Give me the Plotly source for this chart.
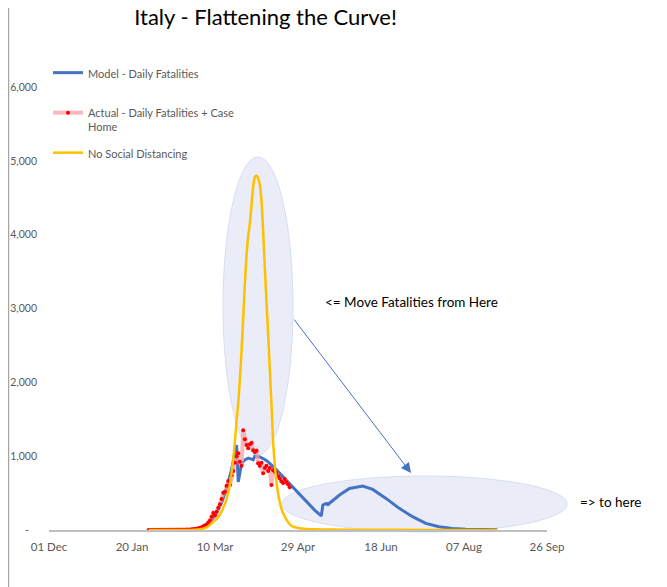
import pandas as pd
import plotly.graph_objects as go

# ---------------- data ----------------
actual_start = "2020-01-30"
actual_values = [0]*22 + [1, 2, 3, 5,
    7, 10, 12, 17, 21, 29, 34, 52, 60, 75, 100, 130, 180, 230, 200, 247, 300, 350, 420, 504,
    518, 600, 662, 608, 743, 800, 910, 1000, 1040, 923, 870, 1350, 1230, 1150, 1108, 1162,
    1180, 1080, 1058, 1075, 905, 870, 910, 770, 840, 870, 800, 840, 608, 810, 790, 780, 730,
    700, 660, 635, 690, 650, 620, 580]

model_dates = ["2020-01-30", "2020-02-14", "2020-02-24", "2020-02-29", "2020-03-05", "2020-03-10",
               "2020-03-14", "2020-03-17", "2020-03-20", "2020-03-22", "2020-03-23", "2020-03-24",
               "2020-03-25", "2020-03-26", "2020-03-28", "2020-03-30", "2020-04-01", "2020-04-02",
               "2020-04-03", "2020-04-06", "2020-04-09", "2020-04-11", "2020-04-15", "2020-04-19",
               "2020-04-25", "2020-04-29", "2020-05-04", "2020-05-09", "2020-05-13", "2020-05-14",
               "2020-05-16", "2020-05-17", "2020-05-20", "2020-05-24", "2020-05-30", "2020-06-07",
               "2020-06-13", "2020-06-21", "2020-06-29", "2020-07-07", "2020-07-15", "2020-07-23",
               "2020-07-31", "2020-08-08", "2020-08-27"]
model_values = [0, 2, 10, 25, 70, 190,
                370, 560, 820, 1050, 1150, 650,
                800, 900, 950, 975, 960, 950,
                1000, 990, 955, 923, 838, 743,
                590, 500, 383, 270, 190, 338,
                360, 345, 400, 473, 563, 595,
                550, 428, 293, 180, 90, 45,
                22, 10, 5]

nosd_dates = ["2020-01-30", "2020-02-19", "2020-02-27", "2020-03-01", "2020-03-05", "2020-03-08",
              "2020-03-11", "2020-03-13", "2020-03-15", "2020-03-17", "2020-03-19", "2020-03-20",
              "2020-03-21", "2020-03-22", "2020-03-23", "2020-03-24", "2020-03-25", "2020-03-26",
              "2020-03-27", "2020-03-28", "2020-03-29", "2020-03-30", "2020-03-31", "2020-04-01",
              "2020-04-02", "2020-04-03", "2020-04-04", "2020-04-05", "2020-04-06", "2020-04-07",
              "2020-04-08", "2020-04-09", "2020-04-10", "2020-04-11", "2020-04-12", "2020-04-13",
              "2020-04-14", "2020-04-15", "2020-04-16", "2020-04-17", "2020-04-18", "2020-04-19",
              "2020-04-20", "2020-04-22", "2020-04-24", "2020-04-26", "2020-04-29", "2020-05-04",
              "2020-05-09", "2020-05-19", "2020-06-08", "2020-07-18", "2020-08-27"]
nosd_values = [0, 1, 5, 10, 35, 90,
               150, 210, 300, 420, 620, 780,
               970, 1200, 1480, 1716, 2050, 2430,
               2880, 3340, 3720, 3980, 4150, 4400,
               4650, 4780, 4800, 4760, 4680, 4460,
               4050, 3560, 3100, 2660, 2180, 1716,
               1200, 880, 660, 500, 380, 290,
               230, 140, 80, 45, 28, 15,
               10, 6, 3, 1, 0]

y_tickvals = [0, 1000, 2000, 3000, 4000, 5000, 6000]
y_ticktext = ["-\u00a0\u00a0\u00a0", "1,000", "2,000", "3,000", "4,000", "5,000", "6,000"]
x_tickvals = ["2019-12-01", "2020-01-20", "2020-03-10", "2020-04-29", "2020-06-18", "2020-08-07", "2020-09-26"]
x_ticktext = ["01 Dec", "20 Jan", "10 Mar", "29 Apr", "18 Jun", "07 Aug", "26 Sep"]

actual_dates = pd.date_range(actual_start, periods=len(actual_values), freq="D")

FONT = "Lato"
GREY = "#595959"

# page is offset by the 8px body margin: screenshot px -> figure px = px - 8
OFF = 8
L, T, W, H = 49 - OFF, 87 - OFF, 498, 443

fig = go.Figure()

fig.add_trace(go.Scatter(
    x=model_dates, y=model_values, name="Model - Daily Fatalities",
    mode="lines", line=dict(color="#4472C4", width=3), legend="legend"))

fig.add_trace(go.Scatter(
    x=actual_dates, y=actual_values, name="Actual - Daily Fatalities + Case<br>Home",
    mode="lines+markers", line=dict(color="rgba(245,160,165,0.75)", width=4),
    marker=dict(color="#FF0000", size=4), legend="legend2"))

fig.add_trace(go.Scatter(
    x=nosd_dates, y=nosd_values, name="No Social Distancing",
    mode="lines", line=dict(color="#FFC000", width=2.5, shape="spline", smoothing=0.6),
    legend="legend3"))

def px_x(p):
    return (p - 49) / 498.0

def px_y(p):
    return (530 - p) / 443.0

ell_fill = "rgba(222,228,244,0.65)"
ell_line = "rgba(212,220,240,0.9)"
shapes = [
    dict(type="circle", xref="paper", yref="paper", layer="below",
         x0=px_x(223), x1=px_x(293), y0=px_y(455), y1=px_y(157),
         fillcolor=ell_fill, line=dict(color=ell_line, width=1)),
    dict(type="circle", xref="paper", yref="paper", layer="below",
         x0=px_x(282), x1=px_x(567), y0=px_y(532), y1=px_y(476),
         fillcolor=ell_fill, line=dict(color=ell_line, width=1)),
    dict(type="line", xref="paper", yref="paper",
         x0=px_x(OFF + 0.5), x1=px_x(OFF + 0.5), y0=px_y(600), y1=px_y(-10),
         line=dict(color="#A6A6A6", width=1.5)),
]

annotations = [
    dict(xref="paper", yref="paper", x=px_x(411), y=px_y(473), ax=-118, ay=-155,
         showarrow=True, arrowhead=2, arrowsize=2, arrowwidth=1, arrowcolor="#4472C4", text=""),
    dict(xref="paper", yref="paper", x=px_x(411), y=px_y(302), text="<= Move Fatalities from Here",
         showarrow=False, font=dict(family=FONT, size=13.5, color="#000000"), xanchor="center", yanchor="middle"),
    dict(xref="paper", yref="paper", x=px_x(610), y=px_y(502), text="=> to here",
         showarrow=False, font=dict(family=FONT, size=13.5, color="#000000"), xanchor="center", yanchor="middle"),
]

leg_common = dict(xanchor="left", yanchor="top", bgcolor="rgba(0,0,0,0)", valign="top",
                  font=dict(family=FONT, size=11, color=GREY))

fig.update_layout(
    width=667, height=587,
    margin=dict(l=L, r=667 - L - W, t=T, b=587 - T - H),
    paper_bgcolor="white", plot_bgcolor="white",
    title=dict(text="Italy - Flattening the Curve!", x=px_x(265.5), xref="paper", xanchor="center",
               y=1.0, yref="container", yanchor="top", pad=dict(t=2, b=0),
               font=dict(family=FONT, size=22, color="#000000")),
    font=dict(family=FONT, color=GREY, size=11),
    showlegend=True,
    legend=dict(x=px_x(48), y=px_y(59), **leg_common),
    legend2=dict(x=px_x(48), y=px_y(99), **leg_common),
    legend3=dict(x=px_x(48), y=px_y(139), **leg_common),
    xaxis=dict(type="date", range=["2019-12-01", "2020-09-26"], tickvals=x_tickvals, ticktext=x_ticktext,
               showgrid=False, zeroline=False, showline=True, linecolor="#BFBFBF", linewidth=2,
               ticks="", ticklabelstandoff=5, automargin=False,
               tickfont=dict(family=FONT, size=11.5, color=GREY)),
    yaxis=dict(range=[0, 6000], tickvals=y_tickvals, ticktext=y_ticktext, showgrid=False, zeroline=False,
               showline=False, ticks="", ticklabelstandoff=11, automargin=False,
               tickfont=dict(family=FONT, size=10.5, color=GREY)),
    shapes=shapes, annotations=annotations,
)

fig.write_html("out.html")
